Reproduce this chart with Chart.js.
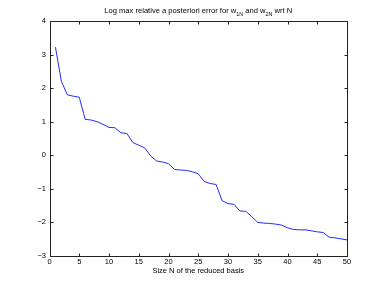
<!DOCTYPE html>
<html><head><meta charset="utf-8">
<script src="https://cdn.jsdelivr.net/npm/chart.js@4"></script>
<style>html,body{margin:0;padding:0;background:#fff}</style>
</head><body>
<canvas id="c" width="382" height="287"></canvas>
<script>
const sizes = [1,2,3,4,5,6,7,8,9,10,11,12,13,14,15,16,17,18,19,20,21,22,23,24,25,26,27,28,29,30,31,32,33,34,35,36,37,38,39,40,41,42,43,44,45,46,47,48,49,50];
const logErrors = [3.22,2.2,1.8,1.76,1.73,1.07,1.05,1.0,0.92,0.83,0.82,0.67,0.65,0.38,0.30,0.22,-0.02,-0.17,-0.20,-0.25,-0.42,-0.44,-0.45,-0.49,-0.55,-0.78,-0.84,-0.87,-1.35,-1.44,-1.46,-1.66,-1.67,-1.83,-2.0,-2.02,-2.03,-2.05,-2.08,-2.16,-2.21,-2.22,-2.22,-2.25,-2.28,-2.30,-2.44,-2.46,-2.49,-2.52];
const xTicks = [0,5,10,15,20,25,30,35,40,45,50];
const yTicks = [-3,-2,-1,0,1,2,3,4];
const titleParts = [["Log max relative a posteriori error for w",false],["1N",true],[" and w",false],["2N",true],[" wrt N",false]];
const xLabel = "Size N of the reduced basis";

const FONT = "'Liberation Sans', Arial, Helvetica, sans-serif";
Chart.defaults.font.family = FONT;
Chart.defaults.font.size = 7.5;
Chart.defaults.color = '#000';

const boxPlugin = {
  id: 'box',
  afterDraw(chart) {
    const {ctx, chartArea: a, scales: {x, y}} = chart;
    ctx.save();
    ctx.strokeStyle = '#222';
    ctx.lineWidth = 1;
    const L = Math.round(a.left) + 0.5, R = Math.round(a.right) + 0.5;
    const T = Math.round(a.top) + 0.5, B = Math.round(a.bottom) + 0.5;
    ctx.beginPath();
    ctx.rect(L, T, R - L, B - T);
    const tl = 3;
    xTicks.forEach(v => {
      const px = Math.round(x.getPixelForValue(v)) + 0.5;
      ctx.moveTo(px, B); ctx.lineTo(px, B - tl);
      ctx.moveTo(px, T); ctx.lineTo(px, T + tl);
    });
    yTicks.forEach(v => {
      const py = Math.round(y.getPixelForValue(v)) + 0.5;
      ctx.moveTo(L, py); ctx.lineTo(L + tl, py);
      ctx.moveTo(R, py); ctx.lineTo(R - tl, py);
    });
    ctx.stroke();
    // title with subscripts
    const big = '7.6px ' + FONT, small = '5.4px ' + FONT;
    let total = 0;
    titleParts.forEach(([t, s]) => { ctx.font = s ? small : big; total += ctx.measureText(t).width; });
    let cx = (a.left + a.right) / 2 - total / 2;
    const baseY = 12.5;
    ctx.fillStyle = '#000';
    ctx.textBaseline = 'alphabetic';
    ctx.textAlign = 'left';
    titleParts.forEach(([t, s]) => {
      ctx.font = s ? small : big;
      ctx.fillText(t, cx, s ? baseY + 3 : baseY);
      cx += ctx.measureText(t).width;
    });
    ctx.restore();
  }
};

new Chart(document.getElementById('c'), {
  type: 'line',
  data: {
    datasets: [{
      data: sizes.map((n, i) => ({x: n, y: logErrors[i]})),
      borderColor: 'rgb(40,40,255)',
      borderWidth: 1,
      pointRadius: 0,
      tension: 0,
      fill: false
    }]
  },
  options: {
    responsive: false,
    animation: false,
    layout: {padding: {top: 21, right: 35, left: 0, bottom: 0}},
    plugins: {legend: {display: false}, tooltip: {enabled: false}, title: {display: false}},
    scales: {
      x: {
        type: 'linear', min: 0, max: 50,
        afterBuildTicks: s => { s.ticks = xTicks.map(v => ({value: v})); },
        ticks: {padding: 1, maxRotation: 0, autoSkip: false, font: {size: 7.5}},
        grid: {display: false, drawTicks: false},
        border: {display: false},
        title: {display: true, text: xLabel, font: {size: 7.5}, padding: {top: 0, bottom: 12}},
        afterFit: s => { s.height = 31; }
      },
      y: {
        type: 'linear', min: -3, max: 4,
        afterBuildTicks: s => { s.ticks = yTicks.map(v => ({value: v})); },
        ticks: {padding: 3.5, autoSkip: false, font: {size: 7.5}, callback: v => (v < 0 ? '\u2212' + Math.abs(v) : String(v))},
        grid: {display: false, drawTicks: false},
        border: {display: false},
        afterFit: s => { s.width = 49.5; }
      }
    }
  },
  plugins: [boxPlugin]
});
</script>
</body></html>
